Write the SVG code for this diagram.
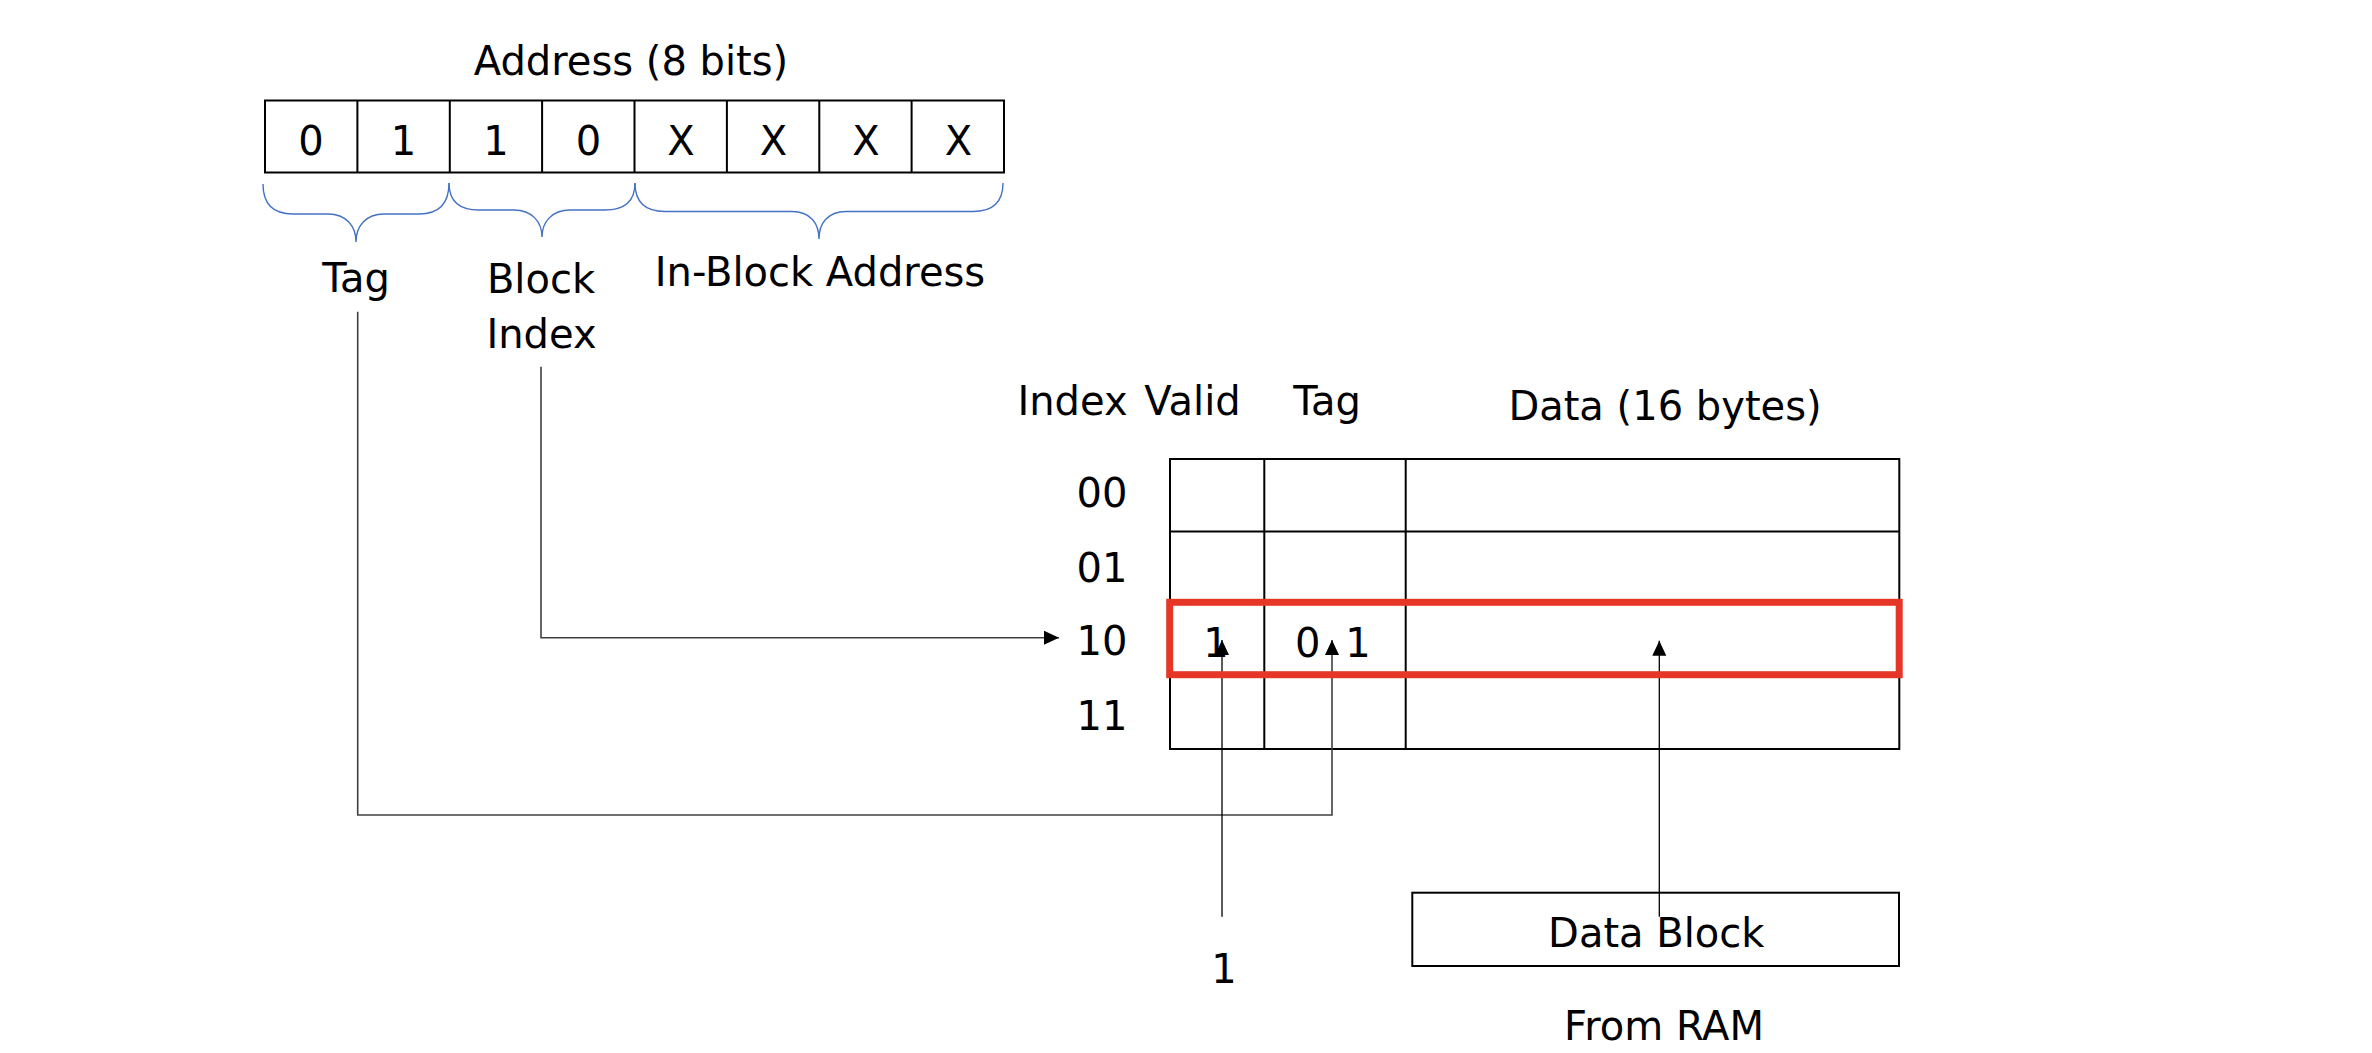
<svg xmlns="http://www.w3.org/2000/svg" width="2372" height="1053" viewBox="0 0 2372 1053">
<defs>
<style>
text { font-family: "DejaVu Sans", "Liberation Sans", sans-serif; font-size: 40px; fill: #000; text-anchor: middle; }
.cell { fill: #fff; stroke: #000; stroke-width: 2; }
.grid { fill: none; stroke: #000; stroke-width: 2; }
.brace { fill: none; stroke: #4472C4; stroke-width: 1.4; }
.conn { fill: none; stroke: #404040; stroke-width: 1.6; }
.connk { fill: none; stroke: #000; stroke-width: 1.3; }
.hl { fill: none; stroke: #E53628; stroke-width: 7; }
</style>
<marker id="arrow" markerUnits="userSpaceOnUse" markerWidth="16" markerHeight="16" refX="15" refY="7" orient="auto">
<path d="M0,0 L15,7 L0,14 z" fill="#000"/>
</marker>
</defs>
<rect width="2372" height="1053" fill="#fff"/>

<g id="address">
<text x="631" y="75">Address (8 bits)</text>
<rect class="cell" x="265" y="100.5" width="739" height="72"/>
<path class="grid" d="M357.4,100.5V172.5 M449.8,100.5V172.5 M542.1,100.5V172.5 M634.5,100.5V172.5 M726.9,100.5V172.5 M819.3,100.5V172.5 M911.6,100.5V172.5"/>
<text x="311" y="155">0</text>
<text x="403.5" y="155">1</text>
<text x="496" y="155">1</text>
<text x="588.5" y="155">0</text>
<text x="681" y="155">X</text>
<text x="773.5" y="155">X</text>
<text x="866" y="155">X</text>
<text x="958.5" y="155">X</text>
</g>

<g id="tag-field">
<path class="brace" d="M263,184 C263,204 273,214 293,214 L328,214 C346,214 356,226 356,242 C356,226 366,214 384,214 L419,214 C439,214 449,204 449,183"/>
<text x="356" y="292">Tag</text>
</g>

<g id="block-index-field">
<path class="brace" d="M449,183 C449,201 459,210 479,210 L514,210 C532,210 542,222 542,237 C542,222 552,210 570,210 L605,210 C625,210 635,201 635,183"/>
<text x="541" y="293">Block</text>
<text x="541.5" y="348">Index</text>
</g>

<g id="in-block-field">
<path class="brace" d="M635,183 C635,202 645,211.5 665,211.5 L792,211.5 C810,211.5 819,223 819,239 C819,223 828,211.5 846,211.5 L973,211.5 C993,211.5 1003,202 1003,183"/>
<text x="820" y="286">In-Block Address</text>
</g>

<g id="cache-table">
<text x="1072.5" y="415">Index</text>
<text x="1192.5" y="415">Valid</text>
<text x="1327" y="415">Tag</text>
<text x="1665" y="420">Data (16 bytes)</text>
<rect class="cell" x="1170" y="459" width="729.3" height="290"/>
<path class="grid" d="M1264.3,459V749 M1405.7,459V749 M1170,531.5H1899.3 M1170,604H1899.3 M1170,676.5H1899.3"/>
<text x="1102" y="507">00</text>
<text x="1102" y="582">01</text>
<text x="1102" y="655">10</text>
<text x="1102" y="730">11</text>
<text x="1216" y="657">1</text>
<text x="1295" y="657" style="text-anchor:start; word-spacing:12px">0 1</text>
</g>

<g id="valid-source">
<text x="1224" y="983">1</text>
</g>

<g id="data-block">
<rect class="cell" x="1412.3" y="892.7" width="486.7" height="73.3"/>
</g>

<g id="connectors">
<path class="conn" d="M357.7,311.7 V815 H1332 V640" marker-end="url(#arrow)"/>
<path class="conn" d="M541,366.7 V637.7 H1059" marker-end="url(#arrow)"/>
<path class="connk" d="M1222,916.7 V640" marker-end="url(#arrow)"/>
<path class="connk" d="M1659.3,916.7 V640.7" marker-end="url(#arrow)"/>
</g>

<g id="data-block-labels">
<text x="1656.3" y="946.7">Data Block</text>
<text x="1664" y="1040">From RAM</text>
</g>

<g id="highlight">
<rect class="hl" x="1169.7" y="602.3" width="729.5" height="72.4"/>
</g>
</svg>
